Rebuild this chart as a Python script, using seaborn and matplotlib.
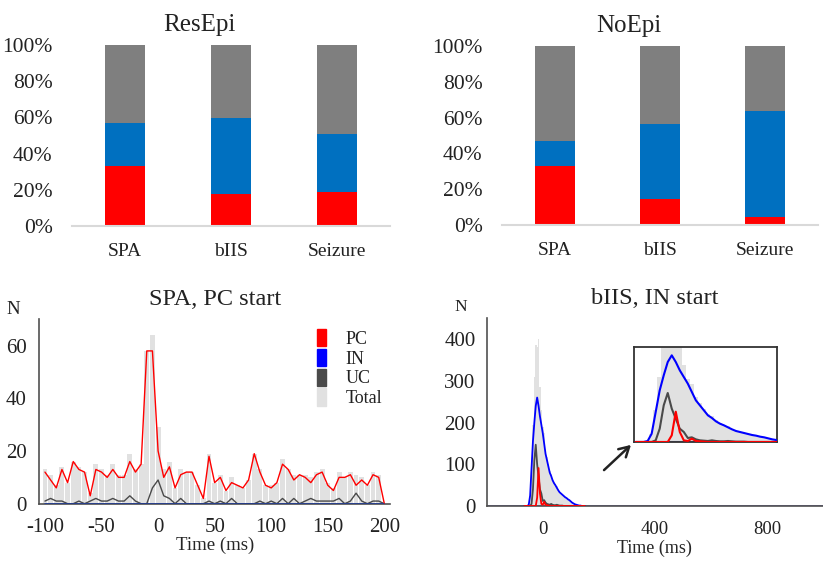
import numpy as np
import pandas as pd
import seaborn as sns
import matplotlib.pyplot as plt
from matplotlib.patches import Patch
from matplotlib.ticker import FuncFormatter

# stacked proportions (fractions), top panels
groups = ["SPA", "bIIS", "Seizure"]
resepi_pc = [0.331, 0.175, 0.190]
resepi_in = [0.236, 0.424, 0.320]
noepi_pc = [0.328, 0.143, 0.043]
noepi_in = [0.139, 0.421, 0.596]

# SPA, PC start (5 ms bins, -100..200)
spa_t = list(range(-100, 205, 5))
spa_pc = [12, 9, 6, 13, 8, 16, 13, 12, 3, 13, 12, 10, 13, 10, 10, 16, 12, 15, 58, 58,
          20, 10, 14, 6, 11, 12, 12, 7, 2, 18, 8, 10, 5, 8, 7, 6, 9, 19, 12, 7,
          6, 8, 15, 13, 9, 11, 10, 8, 11, 12, 7, 5, 10, 10, 11, 7, 9, 7, 11, 10, 0]
spa_in = [0] * 61
spa_uc = [1, 2, 1, 1, 0, 0, 1, 0, 1, 2, 1, 1, 2, 1, 1, 3, 1, 0, 0, 6,
          9, 3, 2, 0, 2, 0, 0, 0, 0, 1, 0, 1, 0, 2, 0, 0, 0, 0, 1, 0,
          1, 0, 2, 0, 2, 0, 1, 2, 1, 1, 1, 1, 2, 0, 1, 4, 1, 0, 1, 1, 0]

# bIIS, IN start (5 ms bins, -65..150)
biis_t = list(range(-65, 155, 5))
biis_in = [0, 0, 0, 3, 25, 90, 155, 200, 240, 260, 240, 215, 195, 175, 150, 125, 110, 95, 80, 72,
           62, 55, 50, 44, 38, 33, 30, 27, 24, 21, 19, 16, 14, 11, 8, 6, 4, 3, 2, 1, 1, 0, 0, 0]
biis_uc = [0, 0, 0, 0, 0, 5, 40, 110, 147, 100, 70, 40, 30, 12, 14, 8, 5, 4, 3, 5,
           3, 2, 2, 3, 2, 1, 1, 1, 0, 0, 0, 0, 0, 0, 0, 0, 0, 0, 0, 0, 0, 0, 0, 0]
biis_pc = [0, 0, 0, 0, 0, 0, 0, 0, 0, 20, 91, 30, 5, 3, 10, 3, 2, 1, 0, 0,
           0, 0, 0, 0, 0, 0, 0, 0, 0, 0, 0, 0, 0, 0, 0, 0, 0, 0, 0, 0, 0, 0, 0, 0]

RED = "#ff0000"
BLUE_BAR = "#0070c0"
GRAY_BAR = "#7f7f7f"
LBLUE = "#0000ff"
UCGRAY = "#4a4a4a"
TOTGRAY = "#e1e1e1"
AXC = "#505050"

sns.set_style("white")
plt.rcParams["font.family"] = ["Liberation Serif", "DejaVu Serif"]
plt.rcParams["axes.unicode_minus"] = False
plt.rcParams["text.color"] = "#222222"
plt.rcParams["xtick.color"] = "#222222"
plt.rcParams["ytick.color"] = "#222222"

fig = plt.figure(figsize=(8.23, 5.61), dpi=100)
W, H = 823.0, 561.0


def px_axes(x0, y0, x1, y1):
    return fig.add_axes([x0 / W, (H - y1) / H, (x1 - x0) / W, (y1 - y0) / H])


def stacked(ax, pc, inn, title, title_x):
    df = pd.DataFrame({"group": groups, "pc": pc, "inn": inn})
    df["top"] = 1.0
    df["mid"] = df["pc"] + df["inn"]
    for col, c in [("top", GRAY_BAR), ("mid", BLUE_BAR), ("pc", RED)]:
        sns.barplot(data=df, x="group", y=col, color=c, width=0.38,
                    saturation=1, ax=ax, linewidth=0)
    ax.set_xlim(-0.5, 2.5)
    ax.set_ylim(0, 1.0)
    ax.set_yticks(np.arange(0, 1.01, 0.2))
    ax.yaxis.set_major_formatter(FuncFormatter(lambda v, _: f"{v * 100:.0f}%"))
    for s in ["top", "right", "left"]:
        ax.spines[s].set_visible(False)
    ax.spines["bottom"].set_color("#d9d9d9")
    ax.spines["bottom"].set_linewidth(1.5)
    ax.tick_params(axis="y", length=0, labelsize=15.5, pad=14)
    ax.tick_params(axis="x", length=0, labelsize=14, pad=12)
    ax.set_xlabel("")
    ax.set_ylabel("")
    ax.text(title_x, 1.05, title, transform=ax.transAxes, ha="center",
            va="bottom", fontsize=18)


ax1 = px_axes(72, 45, 390, 226)
stacked(ax1, resepi_pc, resepi_in, "ResEpi", 0.40)
ax2 = px_axes(502, 46, 818, 225)
stacked(ax2, noepi_pc, noepi_in, "NoEpi", 0.40)

# --- SPA, PC start ---
ax3 = px_axes(39.3, 319.3, 390, 503.7)
spa = pd.DataFrame({"t": spa_t, "PC": spa_pc, "IN": spa_in, "UC": spa_uc})
spa["Total"] = spa["PC"] + spa["IN"] + spa["UC"]
ax3.bar(spa["t"], spa["Total"], width=4.3, color=TOTGRAY, linewidth=0, zorder=1)
sns.lineplot(data=spa, x="t", y="UC", color=UCGRAY, lw=1, ax=ax3, zorder=3)
sns.lineplot(data=spa, x="t", y="PC", color=RED, lw=1, ax=ax3, zorder=4)
sns.lineplot(data=spa, x="t", y="IN", color="#1f3a93", lw=1.2, ax=ax3, zorder=5)
ax3.set_xlim(-105, 205)
ax3.set_ylim(0, 70)
ax3.set_yticks(range(0, 71, 10))
ax3.set_yticklabels([str(v) if v % 20 == 0 else "" for v in range(0, 71, 10)])
ax3.set_xticks(range(-100, 201, 50))
for s in ["top", "right"]:
    ax3.spines[s].set_visible(False)
for s in ["left", "bottom"]:
    ax3.spines[s].set_color(AXC)
    ax3.spines[s].set_linewidth(1.2)
ax3.tick_params(axis="y", direction="in", length=4, color=AXC, labelsize=15, pad=9)
ax3.tick_params(axis="x", length=0, labelsize=15, pad=10)
ax3.set_xlabel("Time (ms)", fontsize=13.5, labelpad=0)
ax3.set_ylabel("")
ax3.set_title("SPA, PC start", fontsize=17.5, pad=10)
ax3.text(-0.075, 1.03, "N", transform=ax3.transAxes, fontsize=13.5, ha="center")
handles = [Patch(color=RED), Patch(color=LBLUE), Patch(color=UCGRAY), Patch(color=TOTGRAY)]
ax3.legend(handles, ["PC", "IN", "UC", "Total"], loc="upper left",
           bbox_to_anchor=(0.745, 1.035), frameon=False, fontsize=13,
           handlelength=0.5, handleheight=1.1, handletextpad=1.1, labelspacing=0.05)

# --- bIIS, IN start ---
biis = pd.DataFrame({"t": biis_t, "PC": biis_pc, "IN": biis_in, "UC": biis_uc})
biis["Total"] = biis["PC"] + biis["IN"] + biis["UC"]


def draw_biis(ax, lw):
    ax.bar(biis["t"], biis["Total"], width=5.6, color=TOTGRAY, linewidth=0, zorder=1)
    ax.axhline(0, color="#6a5fb0", lw=lw, zorder=2)
    sns.lineplot(data=biis, x="t", y="IN", color=LBLUE, lw=lw, ax=ax, zorder=3)
    sns.lineplot(data=biis, x="t", y="UC", color=UCGRAY, lw=lw, ax=ax, zorder=4)
    sns.lineplot(data=biis, x="t", y="PC", color=RED, lw=lw, ax=ax, zorder=5)
    ax.set_xlabel("")
    ax.set_ylabel("")


ax4 = px_axes(486.7, 318.3, 823, 506)
draw_biis(ax4, 1.3)
ax4.set_xlim(-200, 1000)
ax4.set_ylim(0, 450)
ax4.set_yticks(range(0, 401, 100))
ax4.set_xticks(range(-200, 1001, 200))
ax4.set_xticklabels(["" if v not in (0, 400, 800) else str(v) for v in range(-200, 1001, 200)])
for s in ["top", "right"]:
    ax4.spines[s].set_visible(False)
for s in ["left", "bottom"]:
    ax4.spines[s].set_color(AXC)
    ax4.spines[s].set_linewidth(1.2)
ax4.tick_params(axis="y", direction="in", length=4, color=AXC, labelsize=15, pad=8)
ax4.tick_params(axis="x", direction="out", length=4, color=AXC, labelsize=13.5, pad=7)
ax4.set_xlabel("Time (ms)", fontsize=13, labelpad=1)
ax4.set_title("bIIS, IN start", fontsize=17.5, pad=10)
ax4.text(-0.078, 1.04, "N", transform=ax4.transAxes, fontsize=12.5, ha="center")

axi = px_axes(634, 347, 777, 442)
draw_biis(axi, 1.5)
axi.set_xlim(-67, 111)
axi.set_ylim(0, 285)
axi.set_xticks([])
axi.set_yticks([])
for s in axi.spines.values():
    s.set_visible(True)
    s.set_color("#333333")
    s.set_linewidth(1.3)

ax4.annotate("", xy=(633 / W, (H - 443) / H), xytext=(602 / W, (H - 472) / H),
             xycoords="figure fraction", textcoords="figure fraction",
             arrowprops=dict(arrowstyle="->,head_length=0.7,head_width=0.4",
                             color="#222222", lw=1.8))

fig.savefig("out.png", dpi=100)
